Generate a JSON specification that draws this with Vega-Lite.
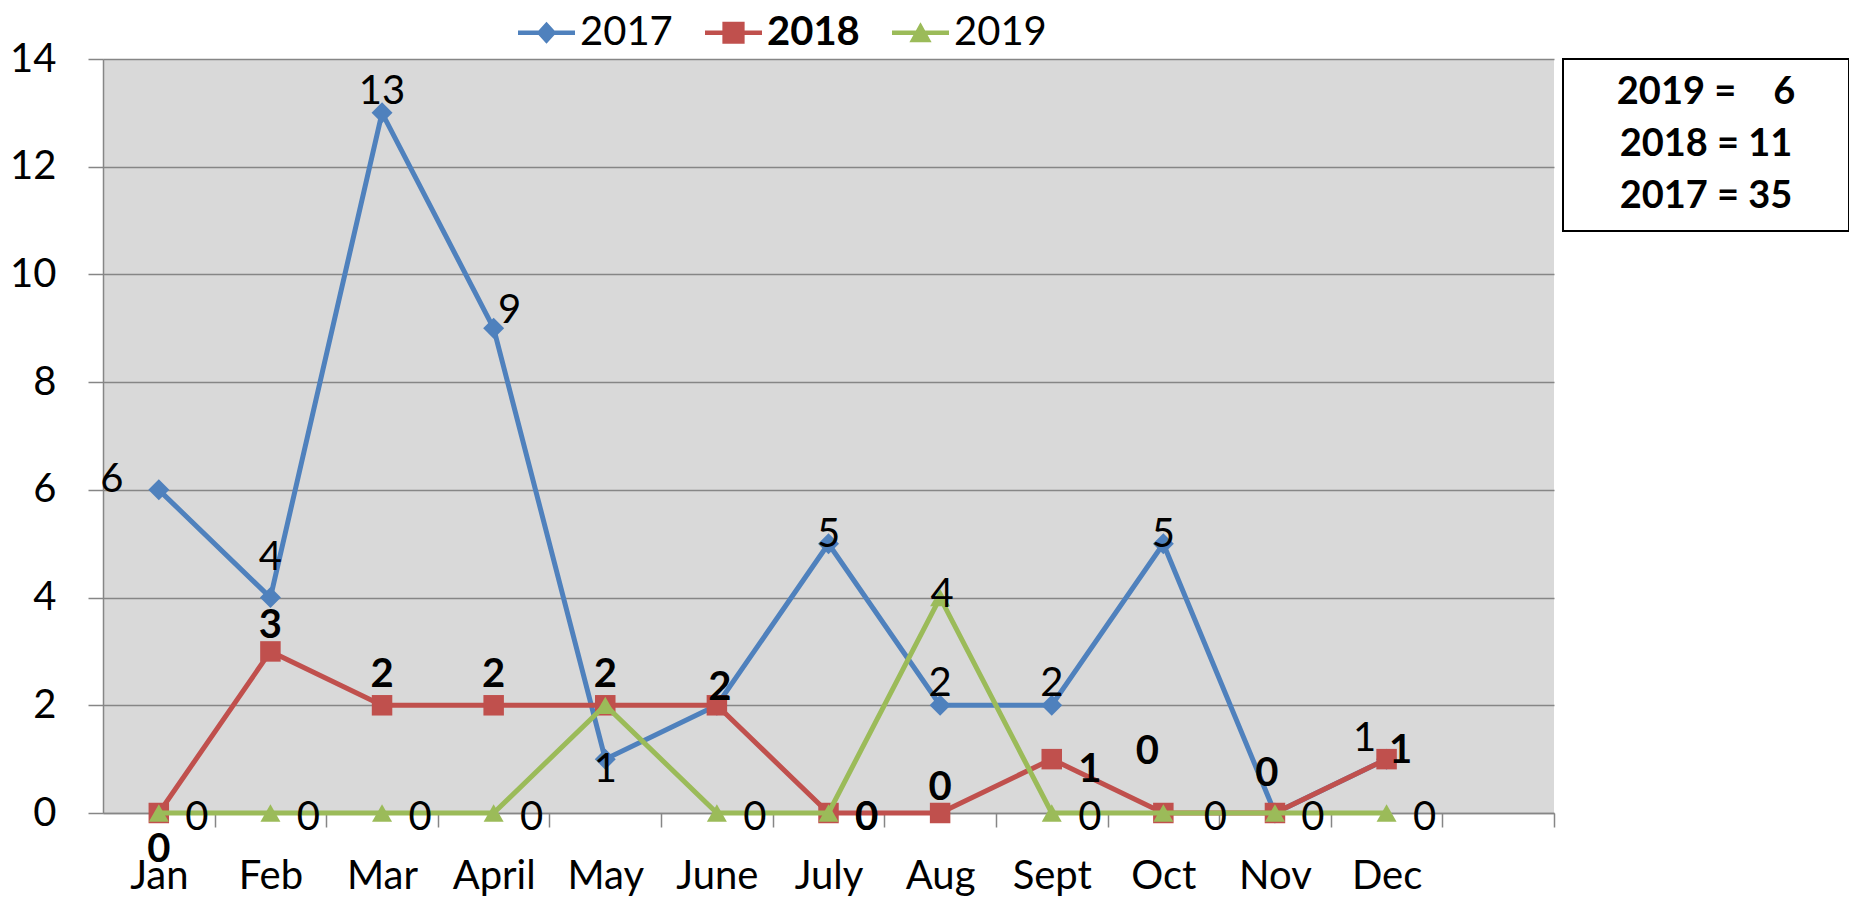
{
  "$schema": "https://vega.github.io/schema/vega-lite/v6.json",
  "background": "white",
  "padding": {"left": 9, "top": 4, "right": 0, "bottom": 0},
  "config": {
    "font": "Lato",
    "view": {"fill": "#D9D9D9", "stroke": null}
  },
  "datasets": {
    "counts": [
      {"month": "Jan", "series": "2017", "value": 6},
      {"month": "Feb", "series": "2017", "value": 4},
      {"month": "Mar", "series": "2017", "value": 13},
      {"month": "April", "series": "2017", "value": 9},
      {"month": "May", "series": "2017", "value": 1},
      {"month": "June", "series": "2017", "value": 2},
      {"month": "July", "series": "2017", "value": 5},
      {"month": "Aug", "series": "2017", "value": 2},
      {"month": "Sept", "series": "2017", "value": 2},
      {"month": "Oct", "series": "2017", "value": 5},
      {"month": "Nov", "series": "2017", "value": 0},
      {"month": "Dec", "series": "2017", "value": 1},
      {"month": "Jan", "series": "2018", "value": 0},
      {"month": "Feb", "series": "2018", "value": 3},
      {"month": "Mar", "series": "2018", "value": 2},
      {"month": "April", "series": "2018", "value": 2},
      {"month": "May", "series": "2018", "value": 2},
      {"month": "June", "series": "2018", "value": 2},
      {"month": "July", "series": "2018", "value": 0},
      {"month": "Aug", "series": "2018", "value": 0},
      {"month": "Sept", "series": "2018", "value": 1},
      {"month": "Oct", "series": "2018", "value": 0},
      {"month": "Nov", "series": "2018", "value": 0},
      {"month": "Dec", "series": "2018", "value": 1},
      {"month": "Jan", "series": "2019", "value": 0},
      {"month": "Feb", "series": "2019", "value": 0},
      {"month": "Mar", "series": "2019", "value": 0},
      {"month": "April", "series": "2019", "value": 0},
      {"month": "May", "series": "2019", "value": 2},
      {"month": "June", "series": "2019", "value": 0},
      {"month": "July", "series": "2019", "value": 0},
      {"month": "Aug", "series": "2019", "value": 4},
      {"month": "Sept", "series": "2019", "value": 0},
      {"month": "Oct", "series": "2019", "value": 0},
      {"month": "Nov", "series": "2019", "value": 0},
      {"month": "Dec", "series": "2019", "value": 0}
    ],
    "totals": [
      {"row": 1, "label": "2019 =\u00a0\u00a0\u00a0 6"},
      {"row": 2, "label": "2018 = 11"},
      {"row": 3, "label": "2017 = 35"}
    ]
  },
  "bounds": "flush",
  "spacing": 9,
  "hconcat": [
    {
      "width": 1451,
      "height": 754,
      "data": {"name": "counts"},
      "encoding": {
        "x": {
          "field": "month",
          "type": "ordinal",
          "sort": ["Jan", "Feb", "Mar", "April", "May", "June", "July", "Aug", "Sept", "Oct", "Nov", "Dec", " "],
          "scale": {"type": "point", "domain": ["Jan", "Feb", "Mar", "April", "May", "June", "July", "Aug", "Sept", "Oct", "Nov", "Dec", " "], "padding": 0.5},
          "axis": {
            "title": null, "grid": false, "labelAngle": 0,
            "domainColor": "#868686", "domainWidth": 1.5,
            "tickColor": "#868686", "tickWidth": 1.5, "tickSize": 14,
            "tickOffset": 55.8, "labelOffset": -55.8,
            "labelFont": "Lato", "labelFontSize": 40, "labelColor": "black", "labelPadding": 29
          }
        },
        "y": {
          "field": "value",
          "type": "quantitative",
          "scale": {"domain": [0, 14], "nice": false},
          "axis": {
            "title": null, "values": [0, 2, 4, 6, 8, 10, 12, 14],
            "grid": true, "gridColor": "#868686", "gridWidth": 1.5,
            "domainColor": "#868686", "domainWidth": 1.5,
            "tickColor": "#868686", "tickWidth": 1.5, "tickSize": 15,
            "labelFont": "Lato", "labelFontSize": 40, "labelColor": "black", "labelPadding": 32
          }
        }
      },
      "layer": [
        {
          "transform": [{"filter": "datum.series === '2017'"}],
          "mark": {"type": "line", "strokeWidth": 5},
          "encoding": {
            "color": {
              "field": "series", "type": "nominal",
              "scale": {"domain": ["2017", "2018", "2019"], "range": ["#4F81BD", "#C0504D", "#9BBB59"]},
              "legend": {
                "orient": "none", "legendX": 415, "legendY": -55, "direction": "horizontal",
                "title": null, "padding": 0,
                "labelFont": "Lato", "labelFontSize": 40, "labelColor": "black", "labelOffset": 5,
                "columnPadding": 32, "symbolSize": 3249, "symbolStrokeWidth": 0,
                "encode": {
                  "symbols": {"update": {
                    "shape": {"signal": "datum.value === '2017' ? 'M-1,-0.08L1,-0.08L1,0.08L-1,0.08Z M0,-0.39L0.35,0L0,0.39L-0.35,0Z' : datum.value === '2018' ? 'M-1,-0.08L1,-0.08L1,0.08L-1,0.08Z M-0.39,-0.39L0.39,-0.39L0.39,0.39L-0.39,0.39Z' : 'M-1,-0.08L1,-0.08L1,0.08L-1,0.08Z M0,-0.37L0.39,0.33L-0.39,0.33Z'"},
                    "fill": {"signal": "datum.value === '2017' ? '#4F81BD' : datum.value === '2018' ? '#C0504D' : '#9BBB59'"},
                    "stroke": {"value": "transparent"},
                    "strokeWidth": {"value": 0},
                    "opacity": {"value": 1}
                  }},
                  "labels": {"update": {
                    "fontWeight": {"signal": "datum.value === '2018' ? 'bold' : 'normal'"}
                  }}
                }
              }
            }
          }
        },
        {
          "transform": [{"filter": "datum.series === '2017'"}],
          "mark": {"type": "point", "shape": "diamond", "filled": true, "size": 440, "opacity": 1},
          "encoding": {"color": {"field": "series", "type": "nominal"}}
        },
        {
          "transform": [{"filter": "datum.series === '2018'"}],
          "mark": {"type": "line", "strokeWidth": 5},
          "encoding": {"color": {"field": "series", "type": "nominal"}}
        },
        {
          "transform": [{"filter": "datum.series === '2018'"}],
          "mark": {"type": "point", "shape": "square", "filled": true, "size": 420, "opacity": 1},
          "encoding": {"color": {"field": "series", "type": "nominal"}}
        },
        {
          "transform": [{"filter": "datum.series === '2019'"}],
          "mark": {"type": "line", "strokeWidth": 5},
          "encoding": {"color": {"field": "series", "type": "nominal"}}
        },
        {
          "transform": [{"filter": "datum.series === '2019'"}],
          "mark": {"type": "point", "shape": "triangle-up", "filled": true, "size": 400, "opacity": 1},
          "encoding": {"color": {"field": "series", "type": "nominal"}}
        },
        {
          "transform": [{"filter": "datum.series === '2017' && indexof(['July','Oct'], datum.month) >= 0"}],
          "mark": {"type": "text", "font": "Lato", "fontSize": 40, "color": "black", "baseline": "middle", "align": "center", "dy": -9},
          "encoding": {"text": {"field": "value"}}
        },
        {
          "transform": [{"filter": "datum.series === '2017' && indexof(['Mar','Aug','Sept'], datum.month) >= 0"}],
          "mark": {"type": "text", "font": "Lato", "fontSize": 40, "color": "black", "baseline": "middle", "align": "center", "dy": -21},
          "encoding": {"text": {"field": "value"}}
        },
        {
          "transform": [{"filter": "datum.series === '2017' && datum.month === 'Jan'"}],
          "mark": {"type": "text", "font": "Lato", "fontSize": 40, "color": "black", "baseline": "middle", "align": "center", "dx": -47, "dy": -10},
          "encoding": {"text": {"field": "value"}}
        },
        {
          "transform": [{"filter": "datum.series === '2017' && datum.month === 'Feb'"}],
          "mark": {"type": "text", "font": "Lato", "fontSize": 40, "color": "black", "baseline": "middle", "align": "center", "dy": -40},
          "encoding": {"text": {"field": "value"}}
        },
        {
          "transform": [{"filter": "datum.series === '2017' && datum.month === 'April'"}],
          "mark": {"type": "text", "font": "Lato", "fontSize": 40, "color": "black", "baseline": "middle", "align": "center", "dx": 16, "dy": -17},
          "encoding": {"text": {"field": "value"}}
        },
        {
          "transform": [{"filter": "datum.series === '2017' && datum.month === 'May'"}],
          "mark": {"type": "text", "font": "Lato", "fontSize": 40, "color": "black", "baseline": "middle", "align": "center", "dy": 11},
          "encoding": {"text": {"field": "value"}}
        },
        {
          "transform": [{"filter": "datum.series === '2017' && datum.month === 'Dec'"}],
          "mark": {"type": "text", "font": "Lato", "fontSize": 40, "color": "black", "baseline": "middle", "align": "center", "dx": -22, "dy": -20},
          "encoding": {"text": {"field": "value"}}
        },
        {
          "transform": [{"filter": "datum.series === '2018' && datum.month === 'Jan'"}],
          "mark": {"type": "text", "font": "Lato", "fontSize": 40, "fontWeight": "bold", "color": "black", "baseline": "middle", "align": "center", "dy": 37},
          "encoding": {"text": {"field": "value"}}
        },
        {
          "transform": [{"filter": "datum.series === '2018' && indexof(['Feb','Aug'], datum.month) >= 0"}],
          "mark": {"type": "text", "font": "Lato", "fontSize": 40, "fontWeight": "bold", "color": "black", "baseline": "middle", "align": "center", "dy": -25},
          "encoding": {"text": {"field": "value"}}
        },
        {
          "transform": [{"filter": "datum.series === '2018' && indexof(['Mar','April','May'], datum.month) >= 0"}],
          "mark": {"type": "text", "font": "Lato", "fontSize": 40, "fontWeight": "bold", "color": "black", "baseline": "middle", "align": "center", "dy": -30},
          "encoding": {"text": {"field": "value"}}
        },
        {
          "transform": [{"filter": "datum.series === '2018' && datum.month === 'June'"}],
          "mark": {"type": "text", "font": "Lato", "fontSize": 40, "fontWeight": "bold", "color": "black", "baseline": "middle", "align": "center", "dx": 3, "dy": -17},
          "encoding": {"text": {"field": "value"}}
        },
        {
          "transform": [{"filter": "datum.series === '2018' && datum.month === 'July'"}],
          "mark": {"type": "text", "font": "Lato", "fontSize": 40, "fontWeight": "bold", "color": "black", "baseline": "middle", "align": "center", "dx": 38, "dy": 5},
          "encoding": {"text": {"field": "value"}}
        },
        {
          "transform": [{"filter": "datum.series === '2018' && datum.month === 'Sept'"}],
          "mark": {"type": "text", "font": "Lato", "fontSize": 40, "fontWeight": "bold", "color": "black", "baseline": "middle", "align": "center", "dx": 38, "dy": 11},
          "encoding": {"text": {"field": "value"}}
        },
        {
          "transform": [{"filter": "datum.series === '2018' && datum.month === 'Oct'"}],
          "mark": {"type": "text", "font": "Lato", "fontSize": 40, "fontWeight": "bold", "color": "black", "baseline": "middle", "align": "center", "dx": -16, "dy": -61},
          "encoding": {"text": {"field": "value"}}
        },
        {
          "transform": [{"filter": "datum.series === '2018' && datum.month === 'Nov'"}],
          "mark": {"type": "text", "font": "Lato", "fontSize": 40, "fontWeight": "bold", "color": "black", "baseline": "middle", "align": "center", "dx": -8, "dy": -39},
          "encoding": {"text": {"field": "value"}}
        },
        {
          "transform": [{"filter": "datum.series === '2018' && datum.month === 'Dec'"}],
          "mark": {"type": "text", "font": "Lato", "fontSize": 40, "fontWeight": "bold", "color": "black", "baseline": "middle", "align": "center", "dx": 14, "dy": -8},
          "encoding": {"text": {"field": "value"}}
        },
        {
          "transform": [{"filter": "datum.series === '2019' && datum.value === 0 && datum.month !== 'Oct'"}],
          "mark": {"type": "text", "font": "Lato", "fontSize": 40, "color": "black", "baseline": "middle", "align": "center", "dx": 38, "dy": 5},
          "encoding": {"text": {"field": "value"}}
        },
        {
          "transform": [{"filter": "datum.series === '2019' && datum.month === 'Oct'"}],
          "mark": {"type": "text", "font": "Lato", "fontSize": 40, "color": "black", "baseline": "middle", "align": "center", "dx": 52, "dy": 5},
          "encoding": {"text": {"field": "value"}}
        },
        {
          "transform": [{"filter": "datum.series === '2019' && datum.month === 'Aug'"}],
          "mark": {"type": "text", "font": "Lato", "fontSize": 40, "color": "black", "baseline": "middle", "align": "center", "dx": 2, "dy": -3},
          "encoding": {"text": {"field": "value"}}
        }
      ]
    },
    {
      "width": 286,
      "height": 172,
      "data": {"name": "totals"},
      "view": {"fill": "white", "stroke": "black", "strokeWidth": 2},
      "mark": {"type": "text", "font": "Lato", "fontSize": 38, "fontWeight": "bold", "color": "black", "baseline": "middle", "align": "center"},
      "encoding": {
        "y": {"field": "row", "type": "ordinal", "scale": {"type": "point", "padding": 0.65}, "axis": null},
        "text": {"field": "label"}
      }
    }
  ]
}
